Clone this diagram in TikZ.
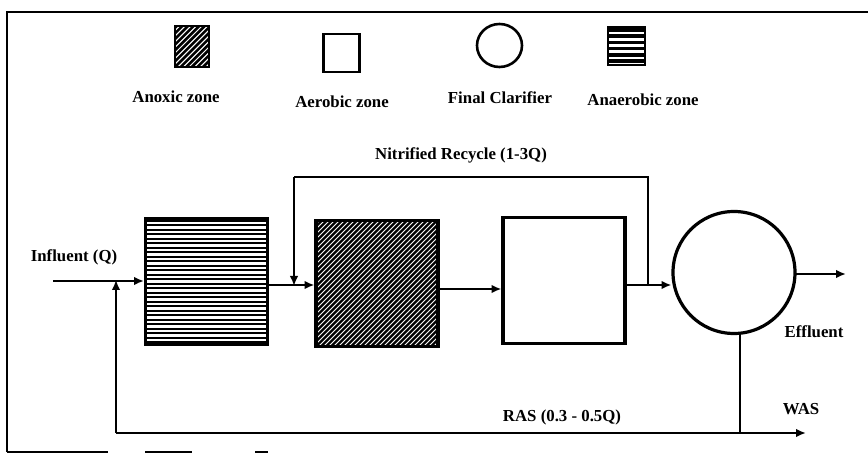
\documentclass[tikz,border=0pt]{standalone}
\usepackage{fontspec}
\setmainfont{Liberation Serif}
\usetikzlibrary{arrows.meta,calc,shapes.geometric}
\newcommand\hhatch[4]{% node, spacing, line width, count
  \begin{scope}
    \clip (#1.south west) rectangle (#1.north east);
    \foreach \k in {0,...,#4}
      \draw[line width=#3] ($(#1.north west)+(-5,\k*#2+0.5*#2)$) -- ++(220,0);
  \end{scope}}
\newcommand\dhatch[4]{% node, horizontal spacing, line width, count
  \begin{scope}
    \clip (#1.south west) rectangle (#1.north east);
    \foreach \k in {-#4,...,#4}
      \draw[line width=#3] ($(#1.south west)+(\k*#2,0)$) -- ++(220,-220);
  \end{scope}}
\begin{document}
\begin{tikzpicture}[x=1pt,y=-1pt,
  lbl/.style={font=\fontsize{16.8}{18}\selectfont\bfseries, inner sep=0pt},
  zone/.style={draw, line width=3.2pt, inner sep=0pt, outer sep=0pt, minimum width=122pt, minimum height=126pt},
  icon/.style={draw, line width=2.6pt, inner sep=0pt, outer sep=0pt},
  flow/.style={line width=2.9pt, -{Latex[length=10pt,width=8.5pt]}},
  pipe/.style={line width=2.9pt},
  frame/.style={line width=2.2pt}
]
\useasboundingbox (0,0) rectangle (868,454);
% frame
\draw[frame] (7,452) -- (7,12) -- (868,12);
\draw[frame] (7,452) -- (108,452);
\draw[frame] (145,452) -- (192,452);
\draw[frame] (255,452) -- (268,452);

% legend
\node[icon, minimum width=34pt, minimum height=41pt] (ianox) at (192,46.5) {};
\dhatch{ianox}{5.6}{2.6}{20}
\draw[line width=2.6pt] (ianox.north west) rectangle (ianox.south east);
\node[icon, minimum width=36pt, minimum height=38pt] (iaer) at (341.5,53) {};
\node[draw, line width=2.6pt, ellipse, inner sep=0pt, minimum width=45pt, minimum height=43pt] (iclar) at (499.5,45.5) {};
\node[icon, minimum width=37pt, minimum height=38pt] (ianaer) at (626.5,46) {};
\hhatch{ianaer}{6.2}{3.6}{8}
\draw[line width=2.6pt] (ianaer.north west) rectangle (ianaer.south east);
\node[lbl] (lanox) at (176,97) {Anoxic zone};
\node[lbl] (laer) at (342,102) {Aerobic zone};
\node[lbl] (lclar) at (500,98) {Final Clarifier};
\node[lbl] (lanaer) at (643,100) {Anaerobic zone};

% main zones
\node[zone] (anaer) at (206.5,281.5) {};
\hhatch{anaer}{4.5}{2.3}{30}
\draw[line width=3.2pt] (anaer.north west) rectangle (anaer.south east);
\node[zone] (anox) at (377,283.5) {};
\dhatch{anox}{5}{2.4}{60}
\draw[line width=3.2pt] (anox.north west) rectangle (anox.south east);
\node[zone] (aer) at (564,280.5) {};
\node[draw, circle, line width=3.2pt, inner sep=0pt, outer sep=0pt, minimum size=122pt] (clar) at (734,272.5) {};

% junction coordinates
\coordinate (inf0) at (53,281);
\coordinate (rasj) at (116,281);
\coordinate (nrj) at (294,285);
\coordinate (nrt) at (294,177);
\coordinate (nrs) at (648,177);
\coordinate (nrb) at (648,285);
\coordinate (ras0) at (740,433);
\coordinate (rasl) at (116,433);
\coordinate (was) at (806,433);
\coordinate (eff) at (846,274);

% flows
\draw[flow] (inf0) -- ([xshift=-1.5pt]anaer.west |- inf0);
\draw[flow] (anaer.east |- nrj) -- ([xshift=-1.5pt]anox.west |- nrj);
\draw[flow] (anox.east |- 0,289) -- ([xshift=-1.5pt]aer.west |- 0,289);
\draw[flow] (aer.east |- nrb) -- ([xshift=-1.5pt]clar.west |- nrb);
\draw[flow] (clar.east |- eff) -- (eff);
% nitrified recycle
\draw[pipe] (nrb) -- (nrs) -- (nrt);
\draw[flow] (nrt) -- ([yshift=-1pt]nrj);
% RAS / WAS
\draw[pipe] (clar.south -| ras0) -- (ras0);
\draw[flow] (rasl) -- (was);
\draw[flow] (rasl) -- ([yshift=1.2pt]rasj);

% labels
\node[lbl] (linf) at (74,257) {Influent (Q)};
\node[lbl] (lnr) at (461,155) {Nitrified Recycle (1-3Q)};
\node[lbl] (leff) at (814,332) {Effluent};
\node[lbl] (lwas) at (801,409) {WAS};
\node[lbl] (lras) at (562,417) {RAS (0.3 - 0.5Q)};
\end{tikzpicture}
\end{document}
